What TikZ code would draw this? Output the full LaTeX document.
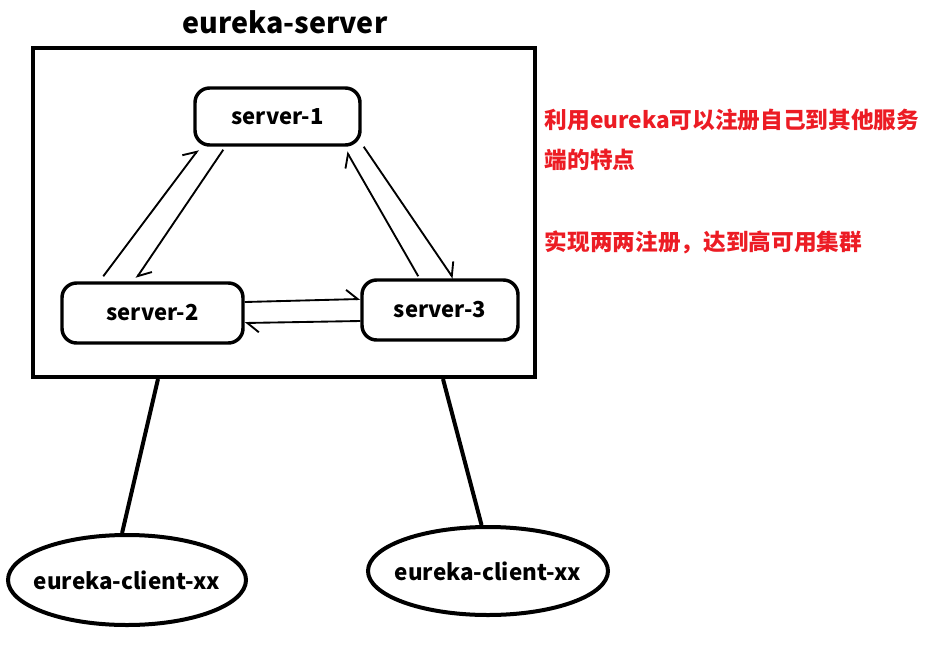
\documentclass[tikz,border=0pt]{standalone}
\usepackage{fontspec}
\setmainfont{Noto Sans CJK SC}
\usepackage{tikz}
\usetikzlibrary{
  arrows.meta,
  positioning,
  calc,
  shapes.geometric
}
\definecolor{NoteRed}{RGB}{236,28,36}
\newcommand{\clienttext}[1]{\makebox[0pt]{#1}}
\tikzset{
  serverbox/.style={draw,line width=2.6pt,rounded corners=11pt,align=center,font=\bfseries\fontsize{16.5}{19}\selectfont},
  clusterbox/.style={draw,line width=3pt,minimum width=376.5pt,minimum height=246.75pt},
  clientnode/.style={draw,ellipse,line width=3pt,inner sep=0pt,font=\bfseries\fontsize{16.8}{19}\selectfont},
  regarrow/.style={-{Straight Barb[harpoon,length=3mm,width=5mm]},line width=1.4pt},
  clientline/.style={line width=3pt},
  note/.style={text=NoteRed,align=left,anchor=west,font=\bfseries\fontsize{17}{30}\selectfont}
}

\begin{document}
\begin{tikzpicture}[x=0.75pt,y=-0.75pt]
\useasboundingbox (0,0) rectangle (926,647);
\node[font=\bfseries\fontsize{21.5}{24}\selectfont] (title) at (285,22) {eureka-server};
\node[clusterbox] (srvbox) at (284,212.5) {};
\node[serverbox,minimum width=123.75pt,minimum height=42.75pt] (s1) at (277.5,116.5) {server-1};
\node[serverbox,minimum width=135.75pt,minimum height=45pt] (s2) at (152.5,313) {server-2};
\node[serverbox,minimum width=117pt,minimum height=45pt] (s3) at (440,310) {server-3};
% registration between the servers
\draw[regarrow] ($(s2.north west)+(43,-5)$) -- ($(s1.south west)+(5,3)$);
\draw[regarrow] ($(s1.south west)+(30,3)$) -- ($(s2.north west)+(76,-3)$);
\draw[regarrow] ($(s3.north west)+(58,-2)$) -- ($(s1.south east)+(-15,5)$);
\draw[regarrow] ($(s1.south east)+(2,0)$) -- ($(s3.north west)+(93,0)$);
\draw[regarrow] ($(s2.east)+(0,-11)$) -- ($(s3.west)+(0,-11)$);
\draw[regarrow] ($(s3.west)+(0,11)$) -- ($(s2.east)+(0,10)$);
% clients
\node[clientnode,minimum width=178.5pt,minimum height=67.5pt] (c1) at (127,580) {\clienttext{eureka-client-xx}};
\node[clientnode,minimum width=180pt,minimum height=66pt] (c2) at (488,571) {\clienttext{eureka-client-xx}};
\draw[clientline] ($(srvbox.south west)+(127,0)$) -- (c1.96);
\draw[clientline] ($(srvbox.south west)+(412,0)$) -- (c2.98);
% notes
\node[note] (note1) at (540,140) {利用eureka可以注册自己到其他服务\\端的特点};
\node[note] (note2) at (540,242) {实现两两注册，达到高可用集群};
\end{tikzpicture}
\end{document}
